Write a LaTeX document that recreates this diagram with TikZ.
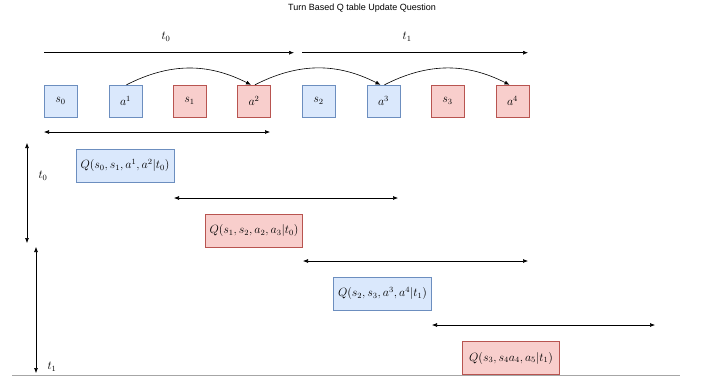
\documentclass[tikz,border=0pt]{standalone}
\usepackage{amsmath}
\usepackage{fontspec}
\newfontfamily\titlefont{Liberation Sans}
\usepackage{xcolor}
\usepackage{tikz}
\usetikzlibrary{arrows.meta}
\definecolor{bluefill}{HTML}{DAE8FC}
\definecolor{bluedraw}{HTML}{6C8EBF}
\definecolor{redfill}{HTML}{F8CECC}
\definecolor{reddraw}{HTML}{B85450}
\tikzset{
  mathtext/.style={inner sep=0pt, font=\fontsize{12}{14}\selectfont},
  cell/.style={rectangle, mathtext, minimum width=33pt, minimum height=32pt},
  bluecell/.style={cell, fill=bluefill, draw=bluedraw},
  redcell/.style={cell, fill=redfill, draw=reddraw},
  qblue/.style={bluecell, minimum width=98pt, minimum height=33pt},
  qred/.style={redcell, minimum width=97pt, minimum height=33pt},
  span/.style={semithick, {Latex[length=5pt,width=4pt]}-{Latex[length=5pt,width=4pt]}},
  timeline/.style={semithick, -{Latex[length=5pt,width=4pt]}}
}

\begin{document}
\begin{tikzpicture}[x=1pt, y=-1pt]
        \useasboundingbox (0,0) rectangle (701,381);
        \node[font=\titlefont\fontsize{9}{11}\selectfont, inner sep=0pt] (title) at (362,8) {Turn Based Q table Update Question};

        % turn timeline
        \coordinate (ta) at (44,52.7);
        \coordinate (tb) at (294,52.7);
        \coordinate (tc) at (302,52.7);
        \coordinate (td) at (528,52.7);
        \node[mathtext] (lt0) at (166,37) {$t_0$};
        \node[mathtext] (lt1) at (407,37) {$t_1$};
        \draw[timeline] (ta) -- (tb);
        \draw[timeline] (tc) -- (td);

        % states and actions
        \node[bluecell] (s0) at (60.5,101) {$s_0$};
        \node[bluecell] (a1) at (125.5,101) {$a^1$};
        \node[redcell] (s1) at (189.5,101) {$s_1$};
        \node[redcell] (a2) at (254,101) {$a^2$};
        \node[bluecell] (s2) at (318.5,101) {$s_2$};
        \node[bluecell] (a3) at (383.5,101) {$a^3$};
        \node[redcell] (s3) at (447.5,101) {$s_3$};
        \node[redcell] (a4) at (512.5,101) {$a^4$};

        \foreach \from/\to in {a1/a2, a2/a3, a3/a4}
        \draw[timeline] ([xshift=1pt]\from.north) to[bend left=27] ([xshift=-3pt]\to.north);

        % update windows
        \coordinate (r1a) at (44,132);   \coordinate (r1b) at (270,132);
        \coordinate (r2a) at (174,198);  \coordinate (r2b) at (398,198);
        \coordinate (r3a) at (303,261);  \coordinate (r3b) at (528,261);
        \coordinate (r4a) at (432,325);  \coordinate (r4b) at (655,325);
        \foreach \from/\to in {r1a/r1b, r2a/r2b, r3a/r3b, r4a/r4b}
        \draw[span] (\from) -- (\to);

        \node[qblue] (q1) at (125,165.5) {$Q(s_0, s_1, a^1, a^2|t_0)$};
        \node[qred] (q2) at (254,230.5) {$Q(s_1, s_2, a_2, a_3|t_0)$};
        \node[qblue] (q3) at (382.5,293.5) {$Q(s_2, s_3, a^3, a^4|t_1)$};
        \node[qred] (q4) at (511,358) {$Q(s_3, s_4 a_4, a_5|t_1)$};

        % vertical time axis
        \coordinate (v0a) at (27,143);  \coordinate (v0b) at (27,243);
        \coordinate (v1a) at (36,247);  \coordinate (v1b) at (36,373);
        \draw[span] (v0a) -- (v0b);
        \draw[span] (v1a) -- (v1b);
        \node[mathtext] (vt0) at (43,176) {$t_0$};
        \node[mathtext] (vt1) at (52,367) {$t_1$};

        \coordinate (g1) at (12,375.5);
        \coordinate (g2) at (680,375.5);
        \draw[gray!70, line width=1.5pt] (g1) -- (g2);
      \end{tikzpicture}
\end{document}
